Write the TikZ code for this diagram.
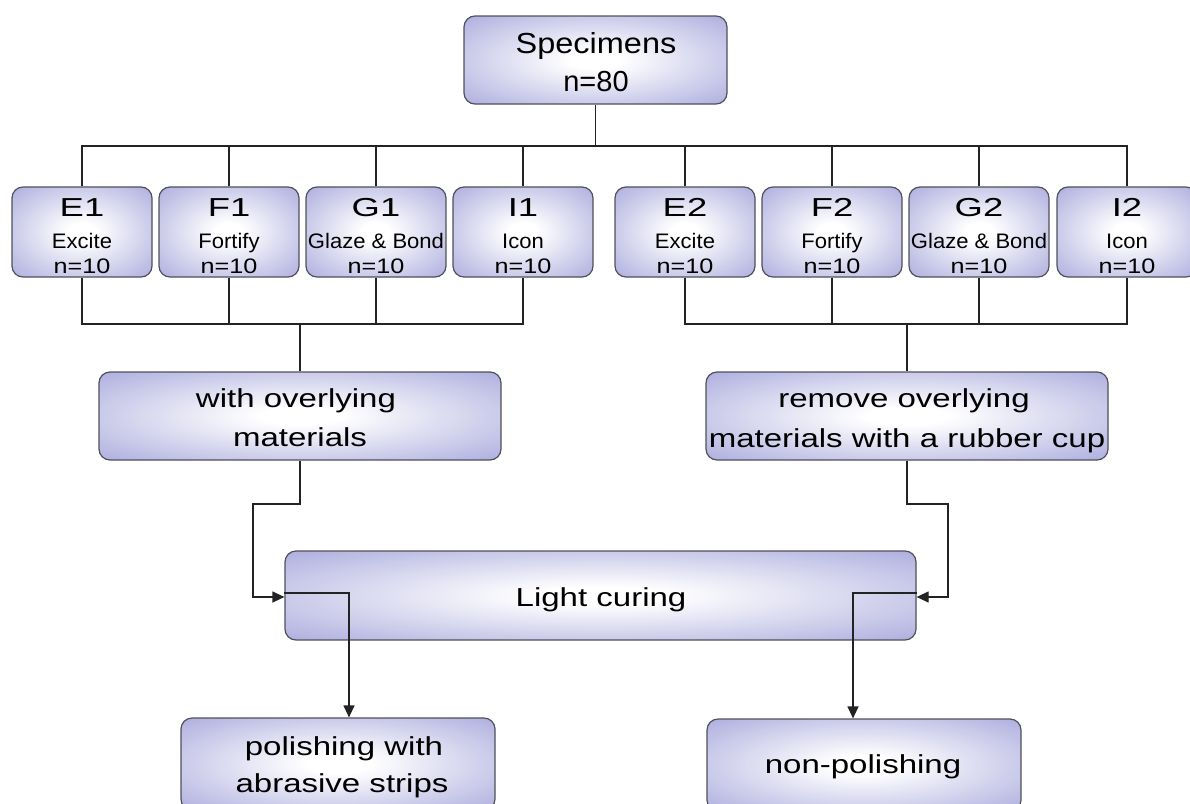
\documentclass[tikz,border=0pt]{standalone}
\usepackage{fontspec}
\setmainfont{Liberation Sans}
\usetikzlibrary{arrows.meta,calc}
\newfontfamily\fbig[FakeStretch=1.27]{Liberation Sans}
\newfontfamily\fspec[FakeStretch=1.12]{Liberation Sans}
\newfontfamily\ftitle[FakeStretch=1.4]{Liberation Sans}
\newfontfamily\fsmall[FakeStretch=1.05]{Liberation Sans}
\newfontfamily\fnum[FakeStretch=1.2]{Liberation Sans}
\definecolor{lav}{RGB}{162,162,218}
\definecolor{edgec}{RGB}{80,80,90}
\definecolor{wirec}{RGB}{35,35,35}
\pgfdeclareradialshading{boxshade}{\pgfpoint{0bp}{0bp}}{color(0bp)=(white); color(5bp)=(white); color(40bp)=(lav); color(80bp)=(lav)}
\begin{document}
\begin{tikzpicture}[x=1pt,y=-1pt,
  box/.style={draw=edgec, line width=1.2pt, rounded corners=11pt, shade, shading=boxshade, inner sep=0pt},
  wire/.style={draw=wirec, line width=1.2pt},
  arr/.style={wire, -{Triangle[length=12pt,width=11pt]}},
  tx/.style={anchor=base, inner sep=0pt},
  bigtxt/.style={tx, font=\fbig\fontsize{26}{30}\selectfont},
  ttl/.style={tx, font=\ftitle\fontsize{26}{30}\selectfont},
  sml/.style={tx, font=\fsmall\fontsize{21}{25}\selectfont},
  num/.style={tx, font=\fnum\fontsize{21}{25}\selectfont}]
\useasboundingbox (0,0) rectangle (1190,803);

% top box
\node[box, minimum width=263pt, minimum height=88pt] (spec) at (595.5,60) {};
\node[tx, font=\fspec\fontsize{29}{34}\selectfont] (specA) at (596,53) {Specimens};
\node[tx, font=\fontsize{29}{34}\selectfont] (specB) at (596,91) {n=80};

% group boxes
\foreach \n/\x/\s in {E1/82/Excite, F1/229/Fortify, G1/376/{Glaze \& Bond}, I1/523/Icon,
                      E2/685/Excite, F2/832/Fortify, G2/979/{Glaze \& Bond}, I2/1127/Icon}{
  \node[box, minimum width=140pt, minimum height=90pt] (\n) at (\x,232) {};
  \node[ttl] (\n a) at (\x,216) {\n};
  \node[sml] (\n b) at (\x,248) {\s};
  \node[num] (\n c) at (\x,273) {n=10};
}

% middle boxes
\node[box, minimum width=402pt, minimum height=88pt] (wom) at (300,416) {};
\node[bigtxt] (womA) at (296,407) {with overlying};
\node[bigtxt] (womB) at (300,446) {materials};
\node[box, minimum width=402pt, minimum height=88pt] (rem) at (907,416) {};
\node[bigtxt] (remA) at (904,407) {remove overlying};
\node[bigtxt] (remB) at (907,447) {materials with a rubber cup};

% light curing
\node[box, minimum width=631pt, minimum height=89pt] (light) at (600.5,595.5) {};
\node[bigtxt] (lightA) at (601,606) {Light curing};

% bottom boxes
\node[box, minimum width=314pt, minimum height=92pt] (pol) at (338,764) {};
\node[bigtxt] (polA) at (344,755) {polishing with};
\node[bigtxt] (polB) at (342,792) {abrasive strips};
\node[box, minimum width=314pt, minimum height=92pt] (nonp) at (864,765) {};
\node[bigtxt] (nonpA) at (863,773) {non-polishing};

% connectors
\coordinate (bus1) at (0,146);
\coordinate (bus2) at (0,324);
\coordinate (lk) at (253,504);
\coordinate (rk) at (948,504);
\draw[wire] (spec.south) -- (spec.south |- bus1);
\draw[wire] (E1.north) -- (E1.north |- bus1) -- (I2.north |- bus1) -- (I2.north);
\foreach \n in {F1,G1,I1,E2,F2,G2} \draw[wire] (\n.north) -- (\n.north |- bus1);
\draw[wire] (E1.south) |- (I1.south |- bus2) -- (I1.south);
\draw[wire] (E2.south) |- (I2.south |- bus2) -- (I2.south);
\foreach \n in {F1,G1,F2,G2} \draw[wire] (\n.south) -- (\n.south |- bus2);
\draw[wire] (wom.north) -- (wom.north |- bus2);
\draw[wire] (rem.north) -- (rem.north |- bus2);

\draw[arr] (wom.south) |- (lk) |- ($(light.west)+(0,1.5)$);
\draw[arr] ($(light.west)+(0,-2.5)$) -| ($(pol.north)+(11,0)$);
\draw[arr] (rem.south) |- (rk) |- ($(light.east)+(0,1.5)$);
\draw[arr] ($(light.east)+(0,-2.5)$) -| ($(nonp.north)+(-11,0)$);
\end{tikzpicture}
\end{document}
